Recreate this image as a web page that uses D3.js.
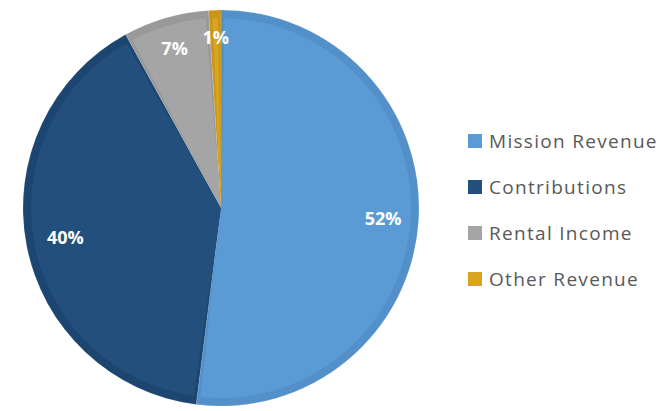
<!DOCTYPE html>
<html>
<head>
<meta charset="utf-8">
<script src="https://cdn.jsdelivr.net/npm/d3@7"></script>
<style>
  body { margin: 0; background: #fff; }
  svg { display: block; }
</style>
</head>
<body>
<div id="chart"></div>
<script>
// revenue split
const categories = ["Mission Revenue", "Contributions", "Rental Income", "Other Revenue"];
const shares = [52, 40, 7, 1];
const labels = ["52%", "40%", "7%", "1%"];

const fillColors = ["#5B9BD5", "#224F7C", "#A5A5A5", "#D9A521"];
const rimColors = ["#538FC8", "#1C4670", "#999999", "#C99618"];

const width = 664, height = 411;
const cx = 221, cy = 208, radius = 198;

const svg = d3.select("#chart")
    .append("svg")
    .attr("width", width)
    .attr("height", height);

const data = categories.map((c, i) => ({name: c, value: shares[i], label: labels[i], i: i}));

const pie = d3.pie()
    .value(d => d.value)
    .sort(null);

const arcs = pie(data);

const outerArc = d3.arc().innerRadius(0).outerRadius(radius);
const innerArc = d3.arc().innerRadius(0).outerRadius(radius - 8)
    .padAngle(0.035).padRadius(radius - 8);

const g = svg.append("g")
    .attr("transform", "translate(" + cx + "," + cy + ")");

g.selectAll(".rim")
    .data(arcs)
    .enter()
    .append("path")
    .attr("class", "rim")
    .attr("d", outerArc)
    .attr("fill", d => rimColors[d.data.i])
    .attr("stroke", "#ffffff")
    .attr("stroke-opacity", 0.15)
    .attr("stroke-width", 0.8);

g.selectAll(".face")
    .data(arcs)
    .enter()
    .append("path")
    .attr("class", "face")
    .attr("d", innerArc)
    .attr("fill", d => fillColors[d.data.i]);

// label positions along the slice bisector, as fractions of radius
const labelRadius = [0.82, 0.80, 0.84, 0.86];

g.selectAll(".pct")
    .data(arcs)
    .enter()
    .append("text")
    .attr("class", "pct")
    .attr("transform", d => {
        const a = (d.startAngle + d.endAngle) / 2;
        const rr = radius * labelRadius[d.data.i];
        return "translate(" + (Math.sin(a) * rr) + "," + (-Math.cos(a) * rr) + ")";
    })
    .attr("text-anchor", "middle")
    .attr("dy", "0.35em")
    .attr("fill", "#ffffff")
    .style("font-family", "'Open Sans', sans-serif")
    .style("font-weight", "bold")
    .style("font-size", "18px")
    .text(d => d.data.label);

// legend
const legendY = d3.scalePoint()
    .domain(categories)
    .range([141, 279]);

const legend = svg.append("g");

const item = legend.selectAll(".item")
    .data(data)
    .enter()
    .append("g")
    .attr("class", "item")
    .attr("transform", d => "translate(468," + legendY(d.name) + ")");

item.append("rect")
    .attr("x", 0)
    .attr("y", -7)
    .attr("width", 14)
    .attr("height", 14)
    .attr("fill", d => fillColors[d.i]);

item.append("text")
    .attr("x", 21)
    .attr("dy", "0.35em")
    .attr("fill", "#595959")
    .style("font-family", "'Open Sans', sans-serif")
    .style("font-size", "19px")
    .style("letter-spacing", "1.3px")
    .text(d => d.name);
</script>
</body>
</html>
